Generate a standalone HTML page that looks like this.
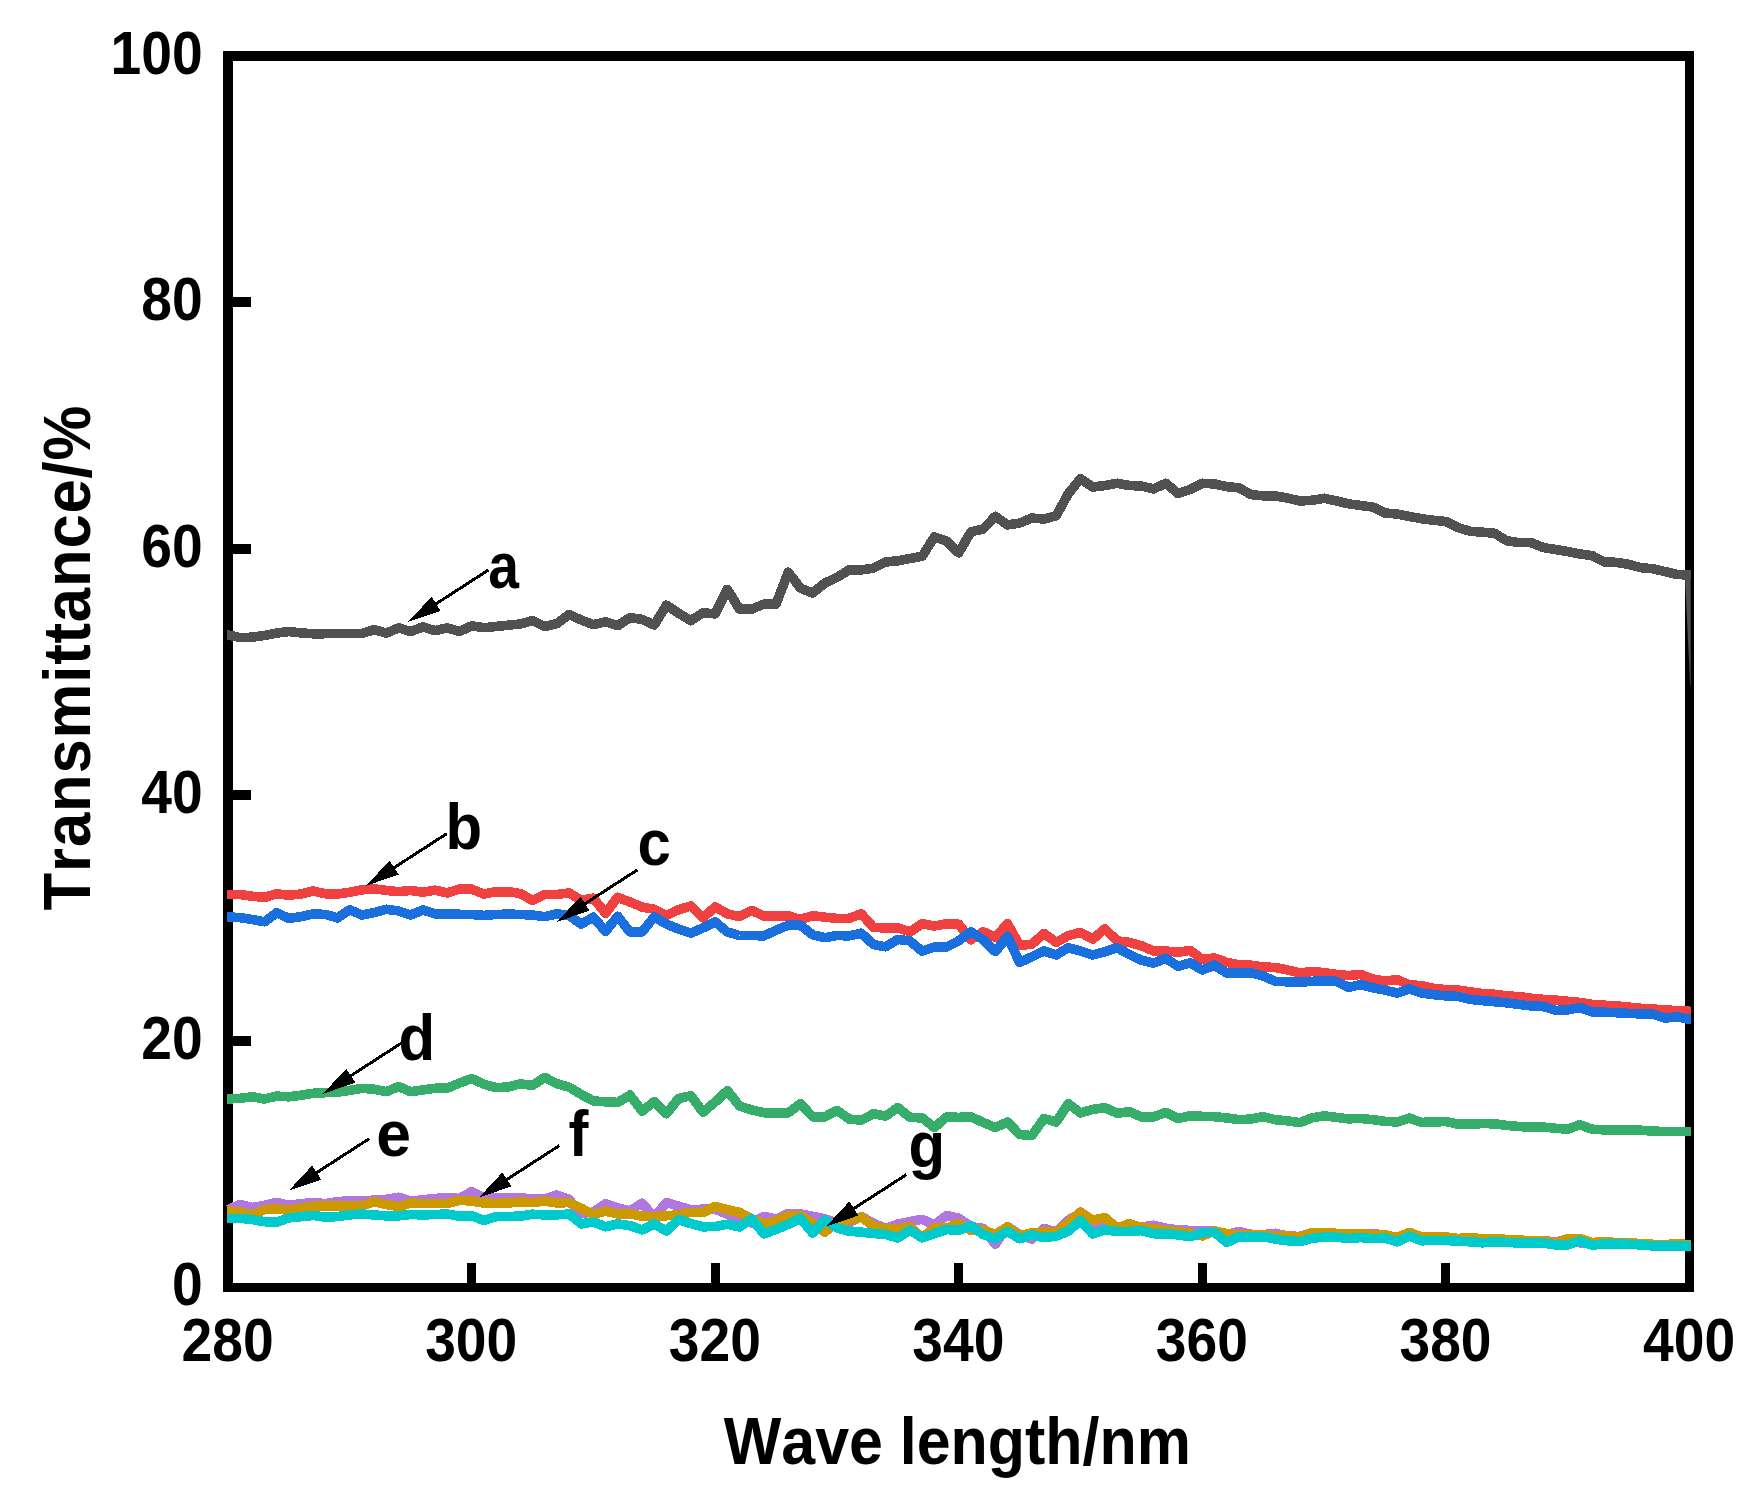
<!DOCTYPE html>
<html lang="en">
<head>
<meta charset="utf-8">
<title>Transmittance vs Wave length</title>
<style>
html,body{margin:0;padding:0;background:#fff;}
body{width:1757px;height:1498px;overflow:hidden;}
svg{display:block;}
text{font-family:"Liberation Sans",Arial,Helvetica,sans-serif;font-weight:bold;fill:#000;font-kerning:none;}
.tick{font-size:58.5px;}
.lab{font-size:64px;}
.title{font-size:63.7px;}
.curve{shape-rendering:crispEdges;fill:none;stroke-width:9.6;stroke-linejoin:round;stroke-linecap:butt;}
</style>
</head>
<body>
<svg width="1757" height="1498" viewBox="0 0 1757 1498">
<rect x="0" y="0" width="1757" height="1498" fill="#ffffff"/>

<g fill="#000">
<rect x="223" y="51" width="10" height="1241"/>
<rect x="1685" y="51" width="9" height="1241"/>
<rect x="223" y="51" width="1471" height="10"/>
<rect x="223" y="1283" width="1471" height="9"/>
<rect x="228" y="1036.0" width="23" height="10"/>
<rect x="228" y="790.0" width="23" height="10"/>
<rect x="228" y="544.0" width="23" height="10"/>
<rect x="228" y="297.0" width="23" height="10"/>
<rect x="467.0" y="1263" width="9" height="24"/>
<rect x="711.0" y="1263" width="9" height="24"/>
<rect x="954.0" y="1263" width="9" height="24"/>
<rect x="1198.0" y="1263" width="9" height="24"/>
<rect x="1441.0" y="1263" width="9" height="24"/>
</g>
<text transform="translate(202.6 1305.4) scale(0.905 1)" font-size="61.0" text-anchor="end">0</text>
<text transform="translate(202.6 1059.1) scale(0.905 1)" font-size="61.0" text-anchor="end">20</text>
<text transform="translate(202.6 812.8) scale(0.905 1)" font-size="61.0" text-anchor="end">40</text>
<text transform="translate(202.6 566.5) scale(0.905 1)" font-size="61.0" text-anchor="end">60</text>
<text transform="translate(202.6 320.2) scale(0.905 1)" font-size="61.0" text-anchor="end">80</text>
<text transform="translate(202.6 73.9) scale(0.905 1)" font-size="61.0" text-anchor="end">100</text>
<text transform="translate(227.6 1360.6) scale(0.905 1)" font-size="61.0" text-anchor="middle">280</text>
<text transform="translate(471.2 1360.6) scale(0.905 1)" font-size="61.0" text-anchor="middle">300</text>
<text transform="translate(714.8 1360.6) scale(0.905 1)" font-size="61.0" text-anchor="middle">320</text>
<text transform="translate(958.3 1360.6) scale(0.905 1)" font-size="61.0" text-anchor="middle">340</text>
<text transform="translate(1201.9 1360.6) scale(0.905 1)" font-size="61.0" text-anchor="middle">360</text>
<text transform="translate(1445.5 1360.6) scale(0.905 1)" font-size="61.0" text-anchor="middle">380</text>
<text transform="translate(1689.1 1360.6) scale(0.905 1)" font-size="61.0" text-anchor="middle">400</text>
<text transform="translate(957.3 1463.5) scale(0.919 1)" font-size="66.3" text-anchor="middle">Wave length/nm</text>
<text transform="translate(89.6 657.6) rotate(-90) scale(0.92 1)" font-size="67" letter-spacing="0.9" text-anchor="middle">Transmittance/%</text>
<text transform="translate(488.2 587.7) scale(0.856 1)" font-size="64.5" text-anchor="start">a</text>
<text transform="translate(445.5 849.4) scale(0.930 1)" font-size="64.5" text-anchor="start">b</text>
<text transform="translate(637.5 864.9) scale(0.930 1)" font-size="64.5" text-anchor="start">c</text>
<text transform="translate(398.5 1060.2) scale(0.930 1)" font-size="64.5" text-anchor="start">d</text>
<text transform="translate(376.2 1156.1) scale(0.970 1)" font-size="64.5" text-anchor="start">e</text>
<text transform="translate(568.5 1156.0) scale(0.930 1)" font-size="64.5" text-anchor="start">f</text>
<text transform="translate(908.5 1166.9) scale(0.930 1)" font-size="64.5" text-anchor="start">g</text>
<polyline class="curve" stroke="#515151" points="226.8,635.0 228.0,635.0 240.2,637.6 252.4,637.2 264.5,635.4 276.7,633.1 288.9,631.5 301.1,632.9 313.3,633.8 325.4,633.7 337.6,633.6 349.8,633.5 362.0,633.4 374.1,629.7 386.3,633.1 398.5,627.9 410.7,631.5 422.9,627.0 435.0,630.6 447.2,627.9 459.4,631.5 471.6,625.9 483.8,627.7 495.9,626.5 508.1,625.2 520.3,624.0 532.5,620.6 544.7,626.5 556.8,623.6 569.0,614.5 581.2,620.0 593.4,624.7 605.5,621.8 617.7,625.7 629.9,617.7 642.1,619.3 654.3,625.0 666.4,605.2 678.6,613.2 690.8,620.7 703.0,612.7 715.2,613.9 727.3,589.3 739.5,609.1 751.7,609.1 763.9,604.1 776.1,604.1 788.2,572.2 800.4,588.1 812.6,593.1 824.8,583.1 837.0,577.4 849.1,569.9 861.3,569.9 873.5,568.1 885.7,562.0 897.8,560.8 910.0,558.5 922.2,556.3 934.4,536.9 946.6,541.0 958.7,552.9 970.9,531.9 983.1,529.0 995.3,516.4 1007.5,524.9 1019.6,523.1 1031.8,518.1 1044.0,519.0 1056.2,515.8 1068.4,493.5 1080.5,478.7 1092.7,487.1 1104.9,485.5 1117.1,483.3 1129.2,485.5 1141.4,486.0 1153.6,488.9 1165.8,483.3 1178.0,493.5 1190.1,489.6 1202.3,483.3 1214.5,483.9 1226.7,486.7 1238.9,487.8 1251.0,494.6 1263.2,495.8 1275.4,496.0 1287.6,498.0 1299.8,501.0 1311.9,500.3 1324.1,498.3 1336.3,500.8 1348.5,503.8 1360.6,505.5 1372.8,507.0 1385.0,513.0 1397.2,514.0 1409.4,516.5 1421.5,518.7 1433.7,520.3 1445.9,521.5 1458.1,527.6 1470.3,531.3 1482.4,532.2 1494.6,533.3 1506.8,540.8 1519.0,542.6 1531.2,542.6 1543.3,547.6 1555.5,549.5 1567.7,551.5 1579.9,554.0 1592.0,555.6 1604.2,561.8 1616.4,562.4 1628.6,564.3 1640.8,567.7 1652.9,568.8 1665.1,571.6 1677.3,574.5 1689.5,575.0 1691.1,575.0"/>
<polygon fill="#515151" points="1685.1,579 1690.7,579 1690.7,686 1690.2,686"/>
<polyline class="curve" stroke="#F14040" points="226.8,894.5 228.0,894.5 240.2,894.5 252.4,896.3 264.5,897.4 276.7,893.8 288.9,895.2 301.1,894.0 313.3,891.0 325.4,893.8 337.6,894.0 349.8,892.2 362.0,889.9 374.1,888.8 386.3,890.4 398.5,891.7 410.7,890.4 422.9,892.2 435.0,890.2 447.2,892.9 459.4,889.2 471.6,889.2 483.8,894.0 495.9,891.7 508.1,891.7 520.3,893.5 532.5,900.4 544.7,894.5 556.8,894.5 569.0,892.9 581.2,900.2 593.4,898.2 605.5,913.3 617.7,897.3 629.9,902.0 642.1,907.0 654.3,909.3 666.4,915.4 678.6,909.7 690.8,905.9 703.0,917.7 715.2,907.0 727.3,913.8 739.5,916.6 751.7,910.4 763.9,916.1 776.1,915.7 788.2,915.7 800.4,919.5 812.6,915.7 824.8,917.2 837.0,918.4 849.1,918.4 861.3,913.8 873.5,927.5 885.7,927.9 897.8,927.9 910.0,931.8 922.2,923.7 934.4,926.0 946.6,923.7 958.7,924.2 970.9,939.7 983.1,931.7 995.3,937.4 1007.5,923.7 1019.6,945.4 1031.8,944.2 1044.0,933.5 1056.2,942.4 1068.4,935.6 1080.5,932.4 1092.7,939.2 1104.9,928.8 1117.1,940.8 1129.2,942.4 1141.4,945.8 1153.6,951.0 1165.8,951.0 1178.0,952.2 1190.1,950.4 1202.3,959.5 1214.5,957.9 1226.7,962.4 1238.9,964.7 1251.0,965.2 1263.2,967.0 1275.4,967.5 1287.6,970.0 1299.8,972.9 1311.9,971.6 1324.1,972.6 1336.3,974.4 1348.5,975.6 1360.6,974.4 1372.8,979.1 1385.0,981.0 1397.2,979.6 1409.4,984.9 1421.5,985.6 1433.7,988.4 1445.9,989.6 1458.1,990.1 1470.3,991.9 1482.4,993.6 1494.6,994.3 1506.8,995.9 1519.0,996.6 1531.2,998.2 1543.3,999.4 1555.5,1000.1 1567.7,1001.3 1579.9,1002.4 1592.0,1004.3 1604.2,1005.2 1616.4,1005.9 1628.6,1007.1 1640.8,1008.3 1652.9,1009.0 1665.1,1009.9 1677.3,1010.6 1689.5,1011.3 1691.1,1011.3"/>
<polyline class="curve" stroke="#1A6FDF" points="226.8,916.8 228.0,916.8 240.2,917.7 252.4,919.5 264.5,921.8 276.7,912.7 288.9,918.4 301.1,916.6 313.3,913.8 325.4,914.5 337.6,917.9 349.8,909.7 362.0,915.0 374.1,912.7 386.3,909.3 398.5,910.9 410.7,915.0 422.9,910.0 435.0,913.8 447.2,913.8 459.4,914.3 471.6,914.5 483.8,915.4 495.9,914.5 508.1,914.1 520.3,914.5 532.5,915.0 544.7,916.7 556.8,913.8 569.0,915.4 581.2,924.1 593.4,917.2 605.5,931.3 617.7,916.3 629.9,932.0 642.1,932.0 654.3,916.8 666.4,924.1 678.6,929.1 690.8,933.2 703.0,927.9 715.2,921.8 727.3,932.0 739.5,935.5 751.7,935.5 763.9,935.9 776.1,930.2 788.2,925.2 800.4,925.2 812.6,934.8 824.8,937.7 837.0,935.5 849.1,935.9 861.3,933.2 873.5,944.6 885.7,946.8 897.8,939.3 910.0,941.0 922.2,951.2 934.4,947.0 946.6,947.0 958.7,940.8 970.9,931.7 983.1,939.7 995.3,951.7 1007.5,936.3 1019.6,962.4 1031.8,956.8 1044.0,951.0 1056.2,955.0 1068.4,947.7 1080.5,951.0 1092.7,955.0 1104.9,951.7 1117.1,947.7 1129.2,954.5 1141.4,960.2 1153.6,963.1 1165.8,958.3 1178.0,966.3 1190.1,962.9 1202.3,970.0 1214.5,965.2 1226.7,973.1 1238.9,973.1 1251.0,972.7 1263.2,976.1 1275.4,981.3 1287.6,981.8 1299.8,982.1 1311.9,981.4 1324.1,980.7 1336.3,981.4 1348.5,987.3 1360.6,984.7 1372.8,987.7 1385.0,990.1 1397.2,993.1 1409.4,988.9 1421.5,993.1 1433.7,994.7 1445.9,995.9 1458.1,996.4 1470.3,999.4 1482.4,1000.6 1494.6,1001.7 1506.8,1002.9 1519.0,1004.5 1531.2,1005.9 1543.3,1006.4 1555.5,1010.4 1567.7,1009.9 1579.9,1007.6 1592.0,1011.8 1604.2,1012.2 1616.4,1012.7 1628.6,1013.4 1640.8,1013.9 1652.9,1014.1 1665.1,1018.1 1677.3,1016.9 1689.5,1019.2 1691.1,1019.2"/>
<polyline class="curve" stroke="#37AD6B" points="226.8,1099.0 228.0,1099.0 240.2,1098.3 252.4,1096.8 264.5,1099.0 276.7,1096.1 288.9,1096.8 301.1,1095.2 313.3,1093.3 325.4,1092.7 337.6,1092.2 349.8,1090.4 362.0,1088.3 374.1,1089.2 386.3,1091.7 398.5,1086.5 410.7,1091.7 422.9,1089.9 435.0,1088.3 447.2,1088.1 459.4,1083.1 471.6,1078.5 483.8,1084.2 495.9,1087.6 508.1,1087.0 520.3,1083.8 532.5,1085.4 544.7,1077.4 556.8,1083.6 569.0,1087.2 581.2,1094.5 593.4,1100.9 605.5,1101.8 617.7,1102.4 629.9,1095.1 642.1,1111.1 654.3,1101.5 666.4,1113.8 678.6,1098.5 690.8,1095.8 703.0,1112.2 715.2,1102.0 727.3,1090.6 739.5,1106.0 751.7,1109.9 763.9,1112.7 776.1,1113.3 788.2,1112.9 800.4,1103.6 812.6,1116.8 824.8,1116.8 837.0,1110.4 849.1,1119.0 861.3,1120.2 873.5,1113.8 885.7,1116.1 897.8,1107.6 910.0,1117.4 922.2,1117.9 934.4,1127.5 946.6,1116.8 958.7,1117.4 970.9,1116.8 983.1,1122.4 995.3,1127.6 1007.5,1122.0 1019.6,1134.5 1031.8,1135.6 1044.0,1118.5 1056.2,1122.0 1068.4,1103.7 1080.5,1112.9 1092.7,1109.4 1104.9,1107.6 1117.1,1113.3 1129.2,1111.7 1141.4,1116.9 1153.6,1116.9 1165.8,1112.4 1178.0,1118.5 1190.1,1115.8 1202.3,1116.3 1214.5,1116.7 1226.7,1117.9 1238.9,1119.7 1251.0,1119.0 1263.2,1116.7 1275.4,1119.7 1287.6,1120.8 1299.8,1122.6 1311.9,1117.9 1324.1,1115.8 1336.3,1117.4 1348.5,1118.8 1360.6,1118.5 1372.8,1119.7 1385.0,1121.3 1397.2,1122.0 1409.4,1118.1 1421.5,1122.4 1433.7,1122.0 1445.9,1121.5 1458.1,1124.2 1470.3,1124.2 1482.4,1123.6 1494.6,1123.8 1506.8,1125.4 1519.0,1126.5 1531.2,1127.2 1543.3,1127.0 1555.5,1128.3 1567.7,1129.2 1579.9,1124.7 1592.0,1129.2 1604.2,1129.9 1616.4,1129.9 1628.6,1129.9 1640.8,1130.2 1652.9,1131.1 1665.1,1131.5 1677.3,1131.5 1689.5,1131.7 1691.1,1131.7"/>
<polyline class="curve" stroke="#B177DE" points="226.8,1209.6 228.0,1209.6 240.2,1204.4 252.4,1207.5 264.5,1205.3 276.7,1202.4 288.9,1205.3 301.1,1203.6 313.3,1202.7 325.4,1203.6 337.6,1201.5 349.8,1201.0 362.0,1200.7 374.1,1200.2 386.3,1199.3 398.5,1197.3 410.7,1201.0 422.9,1199.8 435.0,1198.5 447.2,1197.6 459.4,1198.5 471.6,1191.6 483.8,1197.6 495.9,1198.0 508.1,1198.0 520.3,1197.5 532.5,1199.3 544.7,1199.0 556.8,1195.0 569.0,1199.3 581.2,1213.5 593.4,1212.1 605.5,1203.6 617.7,1207.9 629.9,1210.9 642.1,1203.2 654.3,1217.0 666.4,1202.4 678.6,1206.2 690.8,1209.6 703.0,1209.2 715.2,1209.2 727.3,1214.3 739.5,1217.8 751.7,1223.0 763.9,1216.4 776.1,1219.0 788.2,1213.5 800.4,1213.8 812.6,1216.4 824.8,1218.8 837.0,1222.9 849.1,1222.9 861.3,1216.5 873.5,1223.2 885.7,1228.5 897.8,1224.1 910.0,1221.5 922.2,1219.3 934.4,1224.9 946.6,1215.5 958.7,1218.1 970.9,1226.6 983.1,1228.4 995.3,1244.2 1007.5,1226.6 1019.6,1234.3 1031.8,1239.1 1044.0,1228.4 1056.2,1231.8 1068.4,1220.0 1080.5,1213.2 1092.7,1224.1 1104.9,1220.7 1117.1,1227.5 1129.2,1226.0 1141.4,1227.0 1153.6,1225.3 1165.8,1228.2 1178.0,1229.9 1190.1,1230.4 1202.3,1230.4 1214.5,1230.9 1226.7,1234.5 1238.9,1231.6 1251.0,1234.3 1263.2,1234.7 1275.4,1233.3 1287.6,1236.1 1299.8,1236.4 1311.9,1232.6 1324.1,1233.0 1336.3,1233.3 1348.5,1233.6 1360.6,1233.6 1372.8,1233.8 1385.0,1234.8 1397.2,1238.0 1409.4,1232.4 1421.5,1236.9 1433.7,1236.9 1445.9,1236.9 1458.1,1238.5 1470.3,1237.5 1482.4,1238.9 1494.6,1238.5 1506.8,1239.5 1519.0,1239.9 1531.2,1241.0 1543.3,1240.6 1555.5,1242.0 1567.7,1239.0 1579.9,1242.8 1592.0,1242.6 1604.2,1241.6 1616.4,1242.6 1628.6,1242.6 1640.8,1243.6 1652.9,1245.0 1665.1,1244.7 1677.3,1243.6 1689.5,1244.7 1691.1,1244.7"/>
<polyline class="curve" stroke="#CC9900" points="226.8,1210.9 228.0,1210.9 240.2,1212.1 252.4,1215.0 264.5,1209.7 276.7,1208.9 288.9,1210.3 301.1,1207.9 313.3,1206.2 325.4,1205.8 337.6,1205.8 349.8,1206.2 362.0,1205.8 374.1,1201.9 386.3,1204.4 398.5,1206.7 410.7,1203.1 422.9,1203.6 435.0,1203.6 447.2,1203.6 459.4,1200.3 471.6,1201.0 483.8,1203.1 495.9,1203.4 508.1,1203.0 520.3,1202.0 532.5,1202.6 544.7,1201.2 556.8,1202.9 569.0,1202.6 581.2,1208.2 593.4,1214.5 605.5,1211.1 617.7,1214.0 629.9,1213.7 642.1,1216.2 654.3,1216.6 666.4,1215.7 678.6,1214.9 690.8,1212.3 703.0,1212.5 715.2,1206.3 727.3,1209.7 739.5,1212.3 751.7,1219.1 763.9,1223.6 776.1,1221.3 788.2,1215.3 800.4,1215.7 812.6,1223.0 824.8,1232.1 837.0,1222.5 849.1,1220.0 861.3,1217.1 873.5,1226.0 885.7,1229.0 897.8,1229.0 910.0,1226.8 922.2,1237.5 934.4,1228.0 946.6,1228.0 958.7,1223.4 970.9,1230.4 983.1,1230.2 995.3,1234.5 1007.5,1226.8 1019.6,1235.9 1031.8,1232.8 1044.0,1231.9 1056.2,1232.4 1068.4,1222.6 1080.5,1212.0 1092.7,1220.2 1104.9,1217.6 1117.1,1227.9 1129.2,1223.6 1141.4,1227.5 1153.6,1228.7 1165.8,1230.4 1178.0,1231.6 1190.1,1233.3 1202.3,1235.9 1214.5,1230.9 1226.7,1233.7 1238.9,1235.0 1251.0,1234.7 1263.2,1234.7 1275.4,1236.4 1287.6,1236.1 1299.8,1237.3 1311.9,1233.0 1324.1,1233.0 1336.3,1233.3 1348.5,1233.9 1360.6,1233.7 1372.8,1234.8 1385.0,1234.8 1397.2,1237.5 1409.4,1232.4 1421.5,1236.9 1433.7,1236.9 1445.9,1236.9 1458.1,1238.5 1470.3,1237.5 1482.4,1238.9 1494.6,1238.5 1506.8,1239.5 1519.0,1239.9 1531.2,1241.0 1543.3,1240.6 1555.5,1243.6 1567.7,1238.5 1579.9,1238.5 1592.0,1242.6 1604.2,1241.6 1616.4,1242.6 1628.6,1242.6 1640.8,1243.6 1652.9,1244.3 1665.1,1244.7 1677.3,1243.6 1689.5,1244.7 1691.1,1244.7"/>
<polyline class="curve" stroke="#00CBCC" points="226.8,1218.3 228.0,1218.3 240.2,1218.3 252.4,1219.6 264.5,1221.7 276.7,1222.2 288.9,1217.9 301.1,1216.7 313.3,1215.4 325.4,1217.1 337.6,1216.6 349.8,1214.9 362.0,1214.0 374.1,1214.9 386.3,1215.9 398.5,1215.9 410.7,1214.5 422.9,1214.9 435.0,1214.5 447.2,1214.0 459.4,1216.2 471.6,1215.7 483.8,1220.5 495.9,1216.7 508.1,1216.4 520.3,1216.2 532.5,1214.2 544.7,1214.9 556.8,1214.9 569.0,1214.0 581.2,1223.9 593.4,1221.9 605.5,1226.8 617.7,1223.9 629.9,1225.6 642.1,1229.9 654.3,1223.9 666.4,1231.1 678.6,1219.6 690.8,1223.6 703.0,1226.8 715.2,1226.5 727.3,1224.3 739.5,1227.0 751.7,1218.8 763.9,1233.8 776.1,1229.5 788.2,1224.4 800.4,1218.4 812.6,1233.0 824.8,1220.0 837.0,1227.8 849.1,1231.3 861.3,1232.1 873.5,1233.5 885.7,1234.5 897.8,1237.9 910.0,1230.2 922.2,1237.9 934.4,1233.6 946.6,1229.5 958.7,1230.4 970.9,1226.0 983.1,1234.5 995.3,1238.8 1007.5,1231.4 1019.6,1238.8 1031.8,1235.0 1044.0,1237.6 1056.2,1236.2 1068.4,1231.1 1080.5,1220.8 1092.7,1234.0 1104.9,1229.7 1117.1,1231.6 1129.2,1231.6 1141.4,1230.6 1153.6,1233.7 1165.8,1233.7 1178.0,1234.9 1190.1,1236.7 1202.3,1232.8 1214.5,1232.3 1226.7,1242.5 1238.9,1236.7 1251.0,1236.7 1263.2,1236.7 1275.4,1239.1 1287.6,1240.8 1299.8,1241.7 1311.9,1238.3 1324.1,1237.1 1336.3,1237.1 1348.5,1238.5 1360.6,1237.6 1372.8,1238.7 1385.0,1238.1 1397.2,1241.8 1409.4,1236.1 1421.5,1240.8 1433.7,1240.4 1445.9,1240.4 1458.1,1241.2 1470.3,1241.8 1482.4,1242.8 1494.6,1241.8 1506.8,1242.4 1519.0,1243.0 1531.2,1243.0 1543.3,1243.0 1555.5,1244.9 1567.7,1244.9 1579.9,1240.8 1592.0,1245.3 1604.2,1243.8 1616.4,1243.8 1628.6,1244.3 1640.8,1244.9 1652.9,1245.9 1665.1,1245.9 1677.3,1245.9 1689.5,1245.9 1691.1,1245.9"/>
<g stroke="#000" stroke-width="3" fill="#000" shape-rendering="crispEdges">
<line x1="488.6" y1="569.9" x2="434.4" y2="604.9"/>
<polygon stroke="none" points="408.1,621.9 431.5,596.8 440.6,610.8"/>
<line x1="446.7" y1="833.7" x2="392.5" y2="868.7"/>
<polygon stroke="none" points="366.2,885.7 389.6,860.6 398.7,874.6"/>
<line x1="637.5" y1="869.8" x2="583.3" y2="904.8"/>
<polygon stroke="none" points="557.0,921.8 580.4,896.7 589.5,910.7"/>
<line x1="403.4" y1="1041.8" x2="349.2" y2="1076.8"/>
<polygon stroke="none" points="322.9,1093.8 346.3,1068.7 355.4,1082.7"/>
<line x1="369.2" y1="1138.7" x2="315.0" y2="1173.7"/>
<polygon stroke="none" points="288.7,1190.7 312.1,1165.6 321.2,1179.6"/>
<line x1="559.5" y1="1145.5" x2="505.3" y2="1180.5"/>
<polygon stroke="none" points="479.0,1197.5 502.4,1172.4 511.5,1186.4"/>
<line x1="906.4" y1="1174.6" x2="852.2" y2="1209.6"/>
<polygon stroke="none" points="825.9,1226.6 849.3,1201.5 858.4,1215.5"/>
</g>
</svg>
</body>
</html>
